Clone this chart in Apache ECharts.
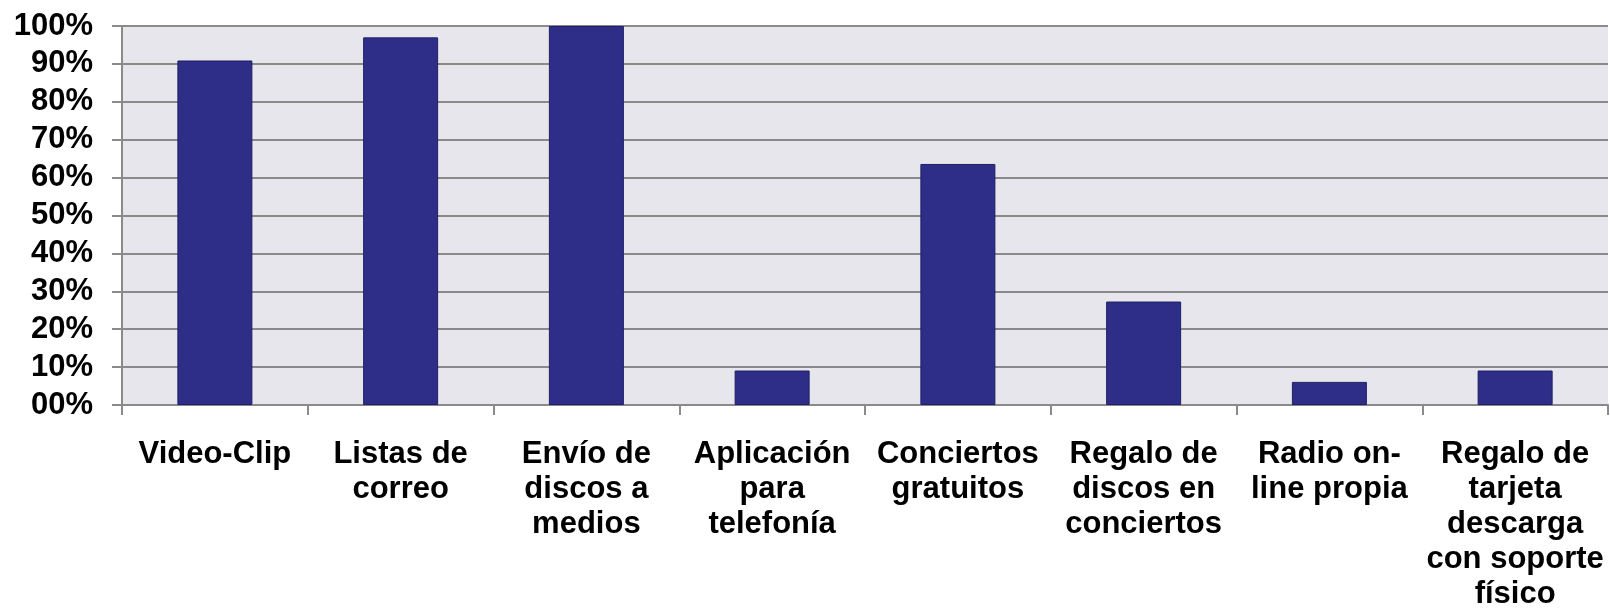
<!DOCTYPE html>
<html>
<head>
<meta charset="utf-8">
<style>
  html, body { margin: 0; padding: 0; background: #fff; }
  #chart { width: 1610px; height: 612px; }
</style>
<script src="https://cdn.jsdelivr.net/npm/echarts@6/dist/echarts.min.js"></script>
</head>
<body>
<div id="chart"></div>
<script>
// categorias (con saltos de linea como en el original)
var categories = [
  'Video-Clip',
  'Listas de\ncorreo',
  'Envío de\ndiscos a\nmedios',
  'Aplicación\npara\ntelefonía',
  'Conciertos\ngratuitos',
  'Regalo de\ndiscos en\nconciertos',
  'Radio on-\nline propia',
  'Regalo de\ntarjeta\ndescarga\ncon soporte\nfísico'
];
// porcentaje
var values = [90.9, 97.0, 100, 9.1, 63.6, 27.3, 6.1, 9.1];

var chart = echarts.init(document.getElementById('chart'));
var gray = '#8a8a8a';
var font = '"Liberation Sans", Arial, sans-serif';

chart.setOption({
  animation: false,
  grid: {
    left: 122,
    right: 2,
    top: 26,
    bottom: 207,
    outerBoundsMode: 'none',
    containLabel: false,
    show: true,
    backgroundColor: '#E7E6EC',
    borderWidth: 0
  },
  xAxis: {
    type: 'category',
    data: categories,
    boundaryGap: true,
    axisLine: { lineStyle: { color: gray, width: 2 } },
    axisTick: { show: true, inside: false, length: 10, lineStyle: { color: gray, width: 2 } },
    axisLabel: {
      interval: 0,
      margin: 32,
      color: '#000',
      fontFamily: font,
      fontWeight: 'bold',
      fontSize: 31,
      lineHeight: 35,
      align: 'center'
    }
  },
  yAxis: {
    type: 'value',
    min: 0,
    max: 100,
    interval: 10,
    axisLine: { show: true, lineStyle: { color: gray, width: 2 } },
    axisTick: { show: true, length: 10, lineStyle: { color: gray, width: 2 } },
    splitLine: { show: true, lineStyle: { color: gray, width: 2 } },
    axisLabel: {
      margin: 29,
      color: '#000',
      fontFamily: font,
      fontWeight: 'bold',
      fontSize: 31,
      formatter: function (v) {
        return (v < 10 ? '0' + v : v) + '%';
      }
    }
  },
  series: [{
    type: 'bar',
    data: values,
    barWidth: 75,
    itemStyle: {
      color: '#2E2E88',
      borderColor: '#1F1F66',
      borderWidth: 1
    }
  }]
});
</script>
</body>
</html>
